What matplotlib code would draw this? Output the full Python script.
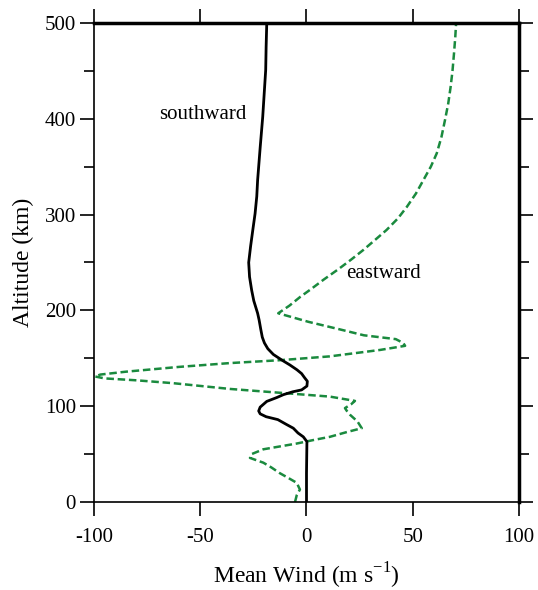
import matplotlib
matplotlib.use("Agg")
import matplotlib.pyplot as plt
from matplotlib.ticker import MultipleLocator

plt.rcParams['font.family'] = ['Liberation Serif', 'DejaVu Serif']

# southward wind (m/s) vs altitude (km)
south_alt = [0, 30, 63, 68, 72, 77, 81, 86, 89, 92, 95, 99, 105, 109, 112, 115, 117, 121,
             126, 130, 134, 138, 143, 148, 154, 160, 166, 172, 180, 190, 197, 210, 221,
             235, 250, 267, 285, 301, 319, 336, 370, 402, 430, 451, 475, 500]
south_wind = [0, 0, 0.2, -1.5, -4.0, -6.2, -9.5, -13.5, -19.0, -21.8, -22.5, -21.8, -18.7,
              -14.0, -10.9, -6.5, -2.3, 0.2, 0.4, -1.0, -2.3, -4.5, -7.8, -11.5, -15.6,
              -18.2, -19.8, -20.8, -21.5, -22.3, -23.0, -24.8, -25.8, -26.8, -27.2, -26.3,
              -25.2, -24.2, -23.4, -23.0, -21.8, -20.6, -19.8, -19.2, -19.0, -18.7]

# eastward wind (m/s) vs altitude (km)
east_alt = [0, 7, 13, 20, 25, 30, 36, 41, 46, 50, 55, 61, 65, 68, 73, 77, 84, 91, 95,
            98, 102, 105.5, 110, 114, 118, 124, 127, 129, 131, 133, 136, 141, 145, 148,
            152, 158.7, 163, 166, 170, 174, 180, 188, 197, 205, 214, 222, 232, 243, 253,
            263, 274, 284, 296, 308, 322, 336, 350, 364, 381, 399, 416, 433, 450, 468,
            485, 500]
east_wind = [-5.4, -4.6, -3.1, -4.6, -8.5, -12.5, -16.5, -20.3, -26.6, -25.8, -20.3, -4.6,
             4.0, 11.0, 19.0, 26.0, 24.0, 20.5, 19.0, 18.1, 21.0, 22.8, 11.0, -12.5, -36.0,
             -62.7, -80.0, -95.0, -99.5, -97.0, -85.0, -60.0, -36.0, -12.5, 11.0, 34.6,
             46.4, 45.5, 42.0, 27.0, 16.0, 1.0, -13.3, -8.0, -3.0, 2.0, 8.0, 15.0, 21.0,
             26.7, 32.5, 37.7, 43.0, 47.2, 51.5, 55.0, 58.5, 61.3, 63.5, 65.2, 66.7, 67.8,
             68.7, 69.4, 70.0, 70.4]

x_ticks = [-100, -50, 0, 50, 100]
y_ticks = [0, 100, 200, 300, 400, 500]

fig = plt.figure(figsize=(5.38, 5.90), dpi=100)
ax = fig.add_axes([0.1747, 0.1492, 0.7900, 0.8118])

ax.plot(east_wind, east_alt, color='#1a8a3e', lw=1.8, ls=(0, (3, 1.5)))
ax.plot(south_wind, south_alt, color='black', lw=2.0)

ax.set_xlim(-100, 100)
ax.set_ylim(0, 500)
ax.set_xticks(x_ticks)
ax.set_xticklabels(['-100', '-50', '0', '50', '100'])
ax.set_yticks(y_ticks)
ax.yaxis.set_minor_locator(MultipleLocator(50))

ax.tick_params(axis='both', which='major', direction='out', length=10, width=1.2,
               labelsize=15, top=True, right=True)
ax.tick_params(axis='x', which='major', pad=9)
ax.tick_params(axis='y', which='major', pad=3)
ax.tick_params(axis='y', which='minor', direction='out', length=7, width=1.2,
               left=True, right=True)

ax.spines['left'].set_linewidth(1.2)
ax.spines['bottom'].set_linewidth(1.2)
ax.spines['top'].set_linewidth(2.5)
ax.spines['right'].set_linewidth(2.5)

ax.set_xlabel('Mean Wind (m s$^{\\mathregular{-1}}$)', fontsize=17, labelpad=10)
ax.set_ylabel('Altitude (km)', fontsize=17, labelpad=8)

ax.text(-49, 404, 'southward', fontsize=15, ha='center', va='center')
ax.text(36, 238, 'eastward', fontsize=15, ha='center', va='center')

fig.savefig('out.png', dpi=100)
